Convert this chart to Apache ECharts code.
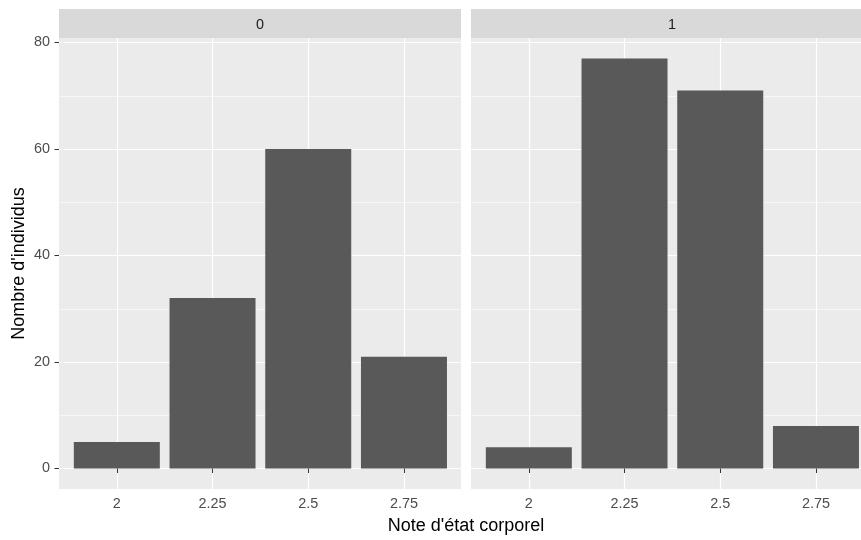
<!DOCTYPE html>
<html><head><meta charset="utf-8">
<script src="https://cdn.jsdelivr.net/npm/echarts@6/dist/echarts.min.js"></script>
<style>html,body{margin:0;padding:0;background:#fff}#c{width:861px;height:540px}</style>
</head><body><div id="c"></div>
<script>
const notes = [2, 2.25, 2.5, 2.75];
const xTickLabels = ['2', '2.25', '2.5', '2.75'];
const panels = ['0', '1'];
const counts0 = [5, 32, 60, 21];
const counts1 = [4, 77, 71, 8];
const yTicks = [0, 20, 40, 60, 80];
const yMinor = [10, 30, 50, 70];
const xTitle = "Note d'état corporel";
const yTitle = "Nombre d'individus";

const FONT = "'Liberation Sans', Arial, sans-serif";
const chart = echarts.init(document.getElementById('c'), null, {renderer: 'canvas'});

const gridL = [59, 471];
const gridW = [402, 390];
const gridTop = 38, gridH = 451;
const pxPerUnit = 402 / 1.05;
const xMin = 1.849;
const xMaxs = gridW.map(w => xMin + w / pxPerUnit);
const yMin = -3.85, yMax = 80.85;
const TICK_FS = 14.4, TITLE_FS = 18;

const grids = gridL.map((l, gi) => ({left: l, top: gridTop, width: gridW[gi], height: gridH, show: true,
  backgroundColor: '#EBEBEB', borderWidth: 0, containLabel: false}));

const xAxes = gridL.map((l, gi) => ({
  type: 'value', gridIndex: gi, min: xMin, max: xMaxs[gi],
  axisLine: {show: false},
  axisTick: {show: true, customValues: notes, length: 4.5, lineStyle: {color: '#333333', width: 1}},
  axisLabel: {show: true, customValues: notes, margin: 8, color: '#4D4D4D', fontSize: TICK_FS, fontFamily: FONT,
    formatter: v => { const i = notes.indexOf(v); return i >= 0 ? xTickLabels[i] : ''; }},
  splitLine: {show: true, lineStyle: {color: '#FFFFFF', width: 1.2}}
}));

const yAxes = [];
gridL.forEach((l, gi) => {
  yAxes.push({
    type: 'value', gridIndex: gi, min: yMin, max: yMax,
    axisLine: {show: false},
    axisTick: {show: gi === 0, customValues: yTicks, length: 4.5, lineStyle: {color: '#333333', width: 1}},
    axisLabel: {show: gi === 0, customValues: yTicks, margin: 9, color: '#4D4D4D', fontSize: TICK_FS, fontFamily: FONT},
    splitLine: {show: true, lineStyle: {color: '#FFFFFF', width: 1.2}},
    name: gi === 0 ? yTitle : '', nameLocation: 'middle', nameGap: 31, nameRotate: 90,
    nameTextStyle: {fontSize: TITLE_FS, color: '#000000', fontFamily: FONT}
  });
  yAxes.push({
    type: 'value', gridIndex: gi, min: yMin, max: yMax,
    axisLine: {show: false},
    axisTick: {show: false, customValues: yMinor},
    axisLabel: {show: false, customValues: yMinor},
    splitLine: {show: true, lineStyle: {color: '#FFFFFF', width: 0.6}}
  });
});

const allCounts = [counts0, counts1];
const series = allCounts.map((cs, gi) => ({
  type: 'bar', xAxisIndex: gi, yAxisIndex: gi * 2,
  data: notes.map((n, i) => [n, cs[i]]),
  barWidth: 86,
  itemStyle: {color: '#595959'},
  emphasis: {disabled: true},
  z: 3
}));

const graphics = [];
gridL.forEach((l, gi) => {
  graphics.push({type: 'rect', left: l, top: 9, shape: {width: gridW[gi], height: gridTop - 9},
    style: {fill: '#D9D9D9'}, z: 1});
  graphics.push({type: 'text', x: l + 201, y: 25.5,
    style: {text: panels[gi], fill: '#1A1A1A', font: TICK_FS + 'px ' + FONT, textAlign: 'center', textVerticalAlign: 'middle'}, z: 2});
});
graphics.push({type: 'text', x: 466, y: 526.5,
  style: {text: xTitle, fill: '#000000', font: TITLE_FS + 'px ' + FONT, textAlign: 'center', textVerticalAlign: 'middle'}});

chart.setOption({
  animation: false,
  backgroundColor: '#FFFFFF',
  grid: grids,
  xAxis: xAxes,
  yAxis: yAxes,
  series: series,
  graphic: graphics
});
</script></body></html>
